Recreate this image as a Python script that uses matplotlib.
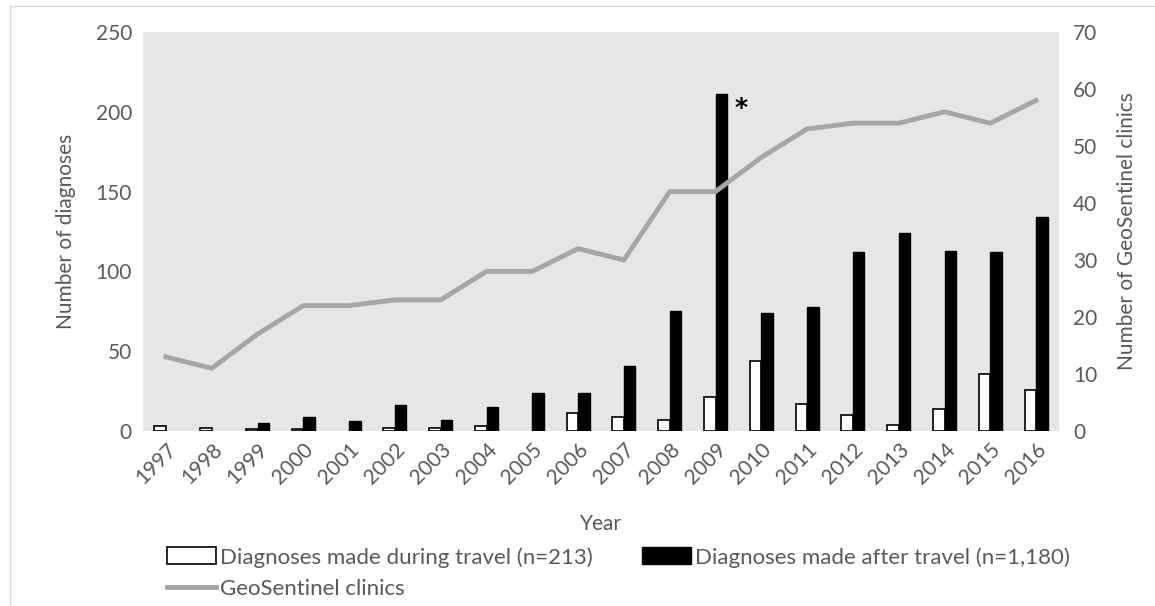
import matplotlib
matplotlib.use("Agg")
import matplotlib.pyplot as plt
import numpy as np
from matplotlib.patches import Patch
from matplotlib.lines import Line2D

years = [str(y) for y in range(1997, 2017)]
during = [3, 2, 1, 1, 0, 2, 2, 3, 0, 11, 9, 7, 21, 44, 17, 10, 4, 14, 36, 26]
after = [0, 0, 5, 9, 6, 16, 7, 15, 24, 24, 41, 75, 211, 74, 78, 112, 124, 113, 112, 134]
clinics = [13, 11, 17, 22, 22, 23, 23, 28, 28, 32, 30, 42, 42, 48, 53, 54, 54, 56, 54, 58]

plt.rcParams['font.family'] = ['Lato', 'DejaVu Sans']
gray_txt = '#595959'
fs = 15

W, H = 1155, 606
fig = plt.figure(figsize=(W / 100, H / 100), dpi=100)
# thin chart border (top and left visible)
fig.add_artist(Line2D([10 / W, 1], [1 - 6 / H, 1 - 6 / H], color='#d9d9d9', linewidth=1, transform=fig.transFigure))
fig.add_artist(Line2D([10 / W, 10 / W], [0, 1 - 6 / H], color='#d9d9d9', linewidth=1, transform=fig.transFigure))

ax = fig.add_axes([143 / W, 1 - 431 / H, (1059 - 143) / W, (431 - 32) / H])
ax.set_facecolor('#e6e6e6')
x = np.arange(len(years))
w = 0.25
d = np.array(during, dtype=float)
a = np.array(after, dtype=float)
ax.bar(x - w / 2, d, width=w, color='white', edgecolor='black',
       linewidth=[1.2 if v > 0 else 0 for v in d], zorder=2)
ax.bar(x + w / 2, a, width=w, color='black', edgecolor='black',
       linewidth=[1.0 if v > 0 else 0 for v in a], zorder=2)
ax.set_xlim(-0.5, len(years) - 0.5)
ax.set_ylim(0, 250)
ax.set_yticks(range(0, 251, 50))
ax.set_xticks(x)
ax.set_xticklabels(years, rotation=45, ha='right', rotation_mode='anchor')
for s in ax.spines.values():
    s.set_visible(False)
ax.tick_params(axis='both', length=0, labelsize=fs, colors=gray_txt, pad=8)
ax.tick_params(axis='x', pad=6)
ax.set_ylabel('Number of diagnoses', fontsize=fs, color=gray_txt, labelpad=14)
ax.set_xlabel('Year', fontsize=fs, color=gray_txt, labelpad=19)

i09 = years.index('2009')
ax.text(x[i09] + w + 0.3, after[i09] - 1, '*', fontsize=18, fontweight='bold',
        family='DejaVu Sans', ha='center', va='top', zorder=3)

ax2 = ax.twinx()
ax2.plot(x, clinics, color='#a6a6a6', linewidth=3.5, zorder=3)
ax2.set_ylim(0, 70)
ax2.set_yticks(range(0, 71, 10))
for s in ax2.spines.values():
    s.set_visible(False)
ax2.tick_params(axis='y', length=0, labelsize=fs, colors=gray_txt, pad=10)
ax2.set_ylabel('Number of GeoSentinel clinics', fontsize=fs, color=gray_txt, labelpad=14)

handles = [Patch(facecolor='white', edgecolor='black', linewidth=1.2),
           Line2D([0], [0], color='#a6a6a6', linewidth=3.5),
           Patch(facecolor='black', edgecolor='black')]
labels = ['Diagnoses made during travel (n=213)', 'GeoSentinel clinics',
          'Diagnoses made after travel (n=1,180)']
leg = fig.legend(handles, labels, loc='upper left', bbox_to_anchor=(167 / W, 1 - 547 / H), ncol=2,
                 frameon=False, fontsize=16, handlelength=2.2, handleheight=0.8, handletextpad=0.2,
                 columnspacing=2.2, labelspacing=0.5, borderaxespad=0, borderpad=0)
for t in leg.get_texts():
    t.set_color(gray_txt)

fig.savefig('out.png', dpi=100)
